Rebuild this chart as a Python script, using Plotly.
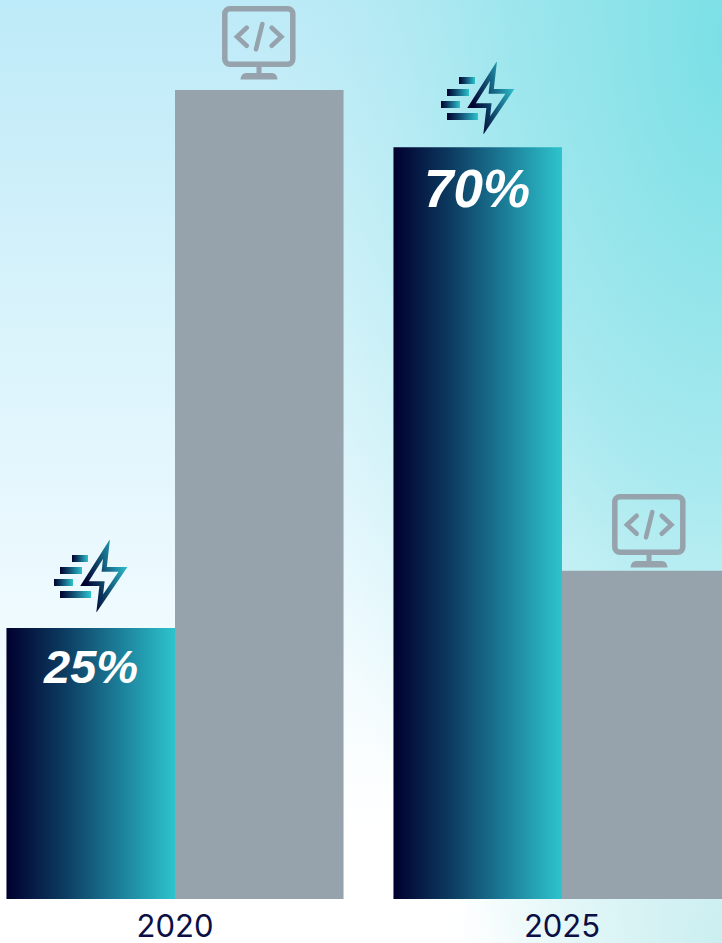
import base64
import plotly.graph_objects as go

# ---- data ----
years = ["2020", "2025"]
fast_values = [25.1, 69.6]
code_values = [74.9, 30.4]
fast_labels = ["25%", "70%"]

W, H, PLOT_H = 722, 943, 899
NAVY = "#0b0f45"
GRAY = "#96a3ad"


def uri(svg):
    return "data:image/svg+xml;base64," + base64.b64encode(svg.encode()).decode()


STOPS = ('<stop offset="0" stop-color="#00002e"/><stop offset="0.35" stop-color="#0d3d62"/>'
         '<stop offset="0.65" stop-color="#1b7a96"/><stop offset="1" stop-color="#2dc4cd"/>')

BG = f'''<svg xmlns="http://www.w3.org/2000/svg" width="{W}" height="{H}" viewBox="0 0 {W} {H}">
<defs>
<linearGradient id="b" x1="0" y1="0" x2="0" y2="1">
<stop offset="0" stop-color="#bdeaf8"/><stop offset="0.3" stop-color="#d6f2fb"/>
<stop offset="0.6" stop-color="#ebf9fe"/><stop offset="0.88" stop-color="#ffffff"/><stop offset="1" stop-color="#ffffff"/>
</linearGradient>
<radialGradient id="t" gradientUnits="userSpaceOnUse" cx="0" cy="0" r="1" gradientTransform="translate(722 40) scale(480 1020)">
<stop offset="0" stop-color="#7ae0e5" stop-opacity="1"/><stop offset="0.45" stop-color="#90e4e9" stop-opacity="0.7"/>
<stop offset="1" stop-color="#b5ecee" stop-opacity="0"/>
</radialGradient>
<radialGradient id="r" gradientUnits="userSpaceOnUse" cx="0" cy="0" r="1" gradientTransform="translate(722 943) scale(270 300)">
<stop offset="0" stop-color="#c6edef" stop-opacity="0.9"/><stop offset="1" stop-color="#c6edef" stop-opacity="0"/>
</radialGradient>
</defs>
<rect width="{W}" height="{H}" fill="url(#b)"/><rect width="{W}" height="{H}" fill="url(#t)"/><rect width="{W}" height="{H}" fill="url(#r)"/></svg>'''

MONITOR = f'''<svg xmlns="http://www.w3.org/2000/svg" width="74" height="74" viewBox="0 0 74 74">
<g fill="none" stroke="{GRAY}" stroke-width="5.5" stroke-linejoin="round">
<rect x="2.8" y="2.8" width="68" height="55.5" rx="5"/>
<path d="M37 60V68" stroke-width="5"/></g>
<g fill="none" stroke="{GRAY}" stroke-width="4.6" stroke-linecap="round" stroke-linejoin="miter">
<path d="M24.7 21.7L15 30.7L24.7 39.7M49.7 21.7L59.4 30.7L49.7 39.7"/><path d="M40.3 18L34 43.3"/></g>
<path d="M18.5 73.5C19 69 21 67 25 67H49C53 67 55 69 55.5 73.5Z" fill="{GRAY}"/></svg>'''

BOLT = f'''<svg xmlns="http://www.w3.org/2000/svg" width="74" height="72" viewBox="0 0 74 72">
<defs>
<linearGradient id="s">{STOPS}</linearGradient>
<linearGradient id="l" gradientUnits="userSpaceOnUse" x1="30" y1="40" x2="74" y2="28">{STOPS}</linearGradient>
</defs>
<rect x="18" y="15" width="16" height="7" fill="url(#s)"/>
<rect x="6" y="27" width="22" height="7" fill="url(#s)"/>
<rect x="0" y="39" width="19" height="7" fill="url(#s)"/>
<rect x="6" y="51" width="31" height="7" fill="url(#s)"/>
<path d="M52.5 9L30.5 43.7H48L45.7 63.5L69 29.4H50.2Z" fill="none" stroke="url(#l)" stroke-width="4.7" stroke-miterlimit="10"/></svg>'''


def image(svg, x, y, w, h, layer="above"):
    # placed in pixel terms on the paper, the plot area is PLOT_H tall
    return dict(source=uri(svg), xref="paper", yref="paper", xanchor="left", yanchor="top",
                x=x / W, y=1 - y / PLOT_H, sizex=w / W, sizey=h / PLOT_H,
                sizing="stretch", layer=layer)


fig = go.Figure()
fig.add_bar(x=years, y=fast_values, name="fast", marker=dict(color="#1b7a96", line_width=0))
fig.add_bar(x=years, y=code_values, name="code", marker=dict(color=GRAY, line_width=0))

annotations = [
    dict(x=i - 0.2177, y=v, xref="x", yref="y", text=label, showarrow=False, yanchor="top",
         yshift=-y_off, xshift=x_off,
         font=dict(family="Liberation Sans", size=size, color="white", weight=700, style="italic"))
    for i, (v, label, size, y_off, x_off) in enumerate(
        zip(fast_values, fast_labels, [47, 53], [10, 10], [0, -1]))
]

fig.update_layout(
    width=W, height=H, autosize=False, showlegend=False,
    margin=dict(l=0, r=0, t=0, b=H - PLOT_H, pad=0, autoexpand=False),
    paper_bgcolor="white", plot_bgcolor="rgba(0,0,0,0)",
    barmode="group", bargap=0.129, bargroupgap=0,
    annotations=annotations,
    images=[
        dict(source=uri(BG), xref="paper", yref="paper", xanchor="left", yanchor="top",
             x=0, y=1, sizex=1, sizey=H / PLOT_H, sizing="stretch", layer="below"),
        image(MONITOR, 222, 6, 74, 74),
        image(MONITOR, 612, 494, 74, 74),
        image(BOLT, 54, 540, 74, 72),
        image(BOLT, 441, 62, 74, 72),
    ],
    xaxis=dict(type="category", range=[-175 / 387, 547 / 387], showgrid=False, zeroline=False,
               showline=False, ticks="", ticklabelstandoff=6, automargin=False,
               tickfont=dict(family="Inter", size=31, color=NAVY)),
    yaxis=dict(range=[0, PLOT_H / 10.8], visible=False, fixedrange=True),
)

post = f"""
document.body.style.margin='0';document.body.style.overflow='hidden';
var gd=document.getElementById('{{plot_id}}');
var svg=gd.querySelector('.main-svg');
var defs=svg.querySelector('defs');
var g=document.createElementNS('http://www.w3.org/2000/svg','linearGradient');
g.setAttribute('id','barfade');
g.innerHTML='{STOPS}';
defs.appendChild(g);
var tr=gd.querySelectorAll('.barlayer .trace')[0];
tr.querySelectorAll('path').forEach(function(p){{p.style.fill='url(#barfade)';}});
"""

fig.write_html("out.html", post_script=post, config=dict(displayModeBar=False))
